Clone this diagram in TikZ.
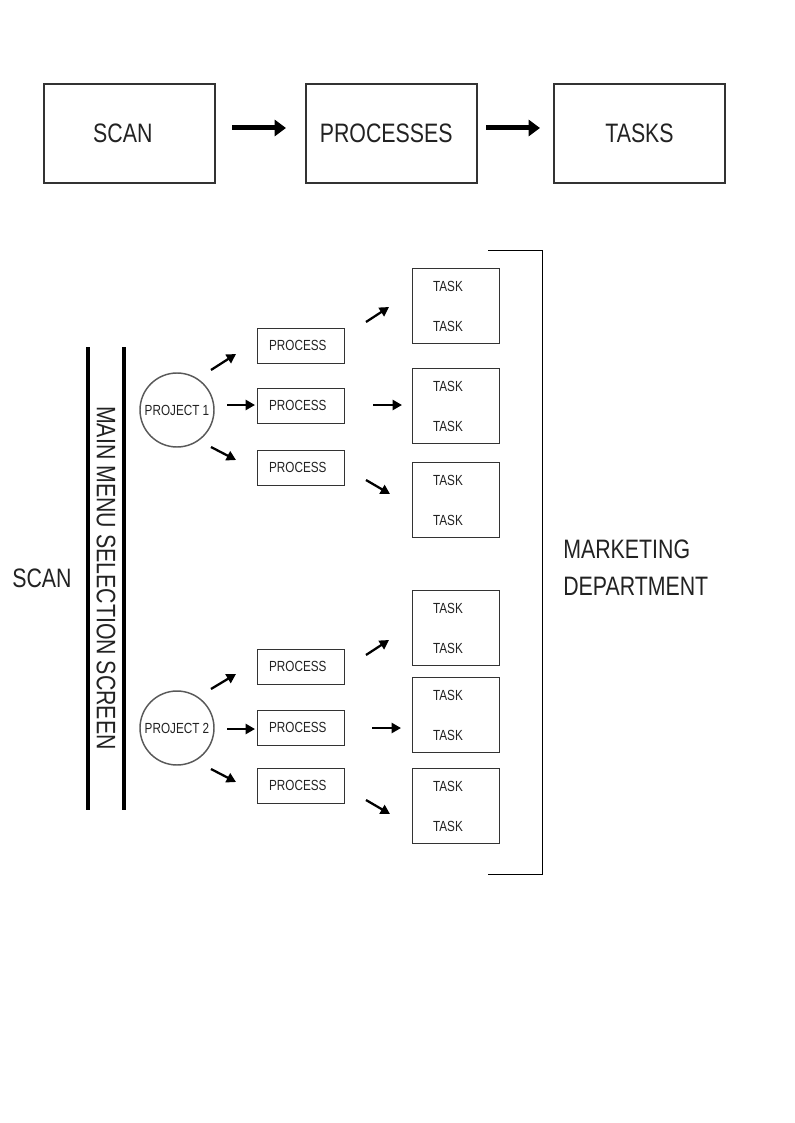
\documentclass[tikz,border=0pt]{standalone}
\usepackage{fontspec}
\setmainfont{Liberation Sans}[FakeStretch=0.8]
\usetikzlibrary{arrows.meta}
\definecolor{ink}{HTML}{222222}
\definecolor{edge}{HTML}{333333}
\begin{document}
\begin{tikzpicture}[x=0.75pt,y=-0.75pt,
  bigbox/.style={draw=edge,line width=0.9pt,minimum width=128.25pt,minimum height=74.25pt,inner sep=0pt,font=\fontsize{20}{24}\selectfont,text=ink},
  procbox/.style={draw=edge,line width=0.75pt,minimum width=65.25pt,minimum height=26.25pt,inner sep=0pt,font=\fontsize{11}{13}\selectfont,text=ink},
  taskbox/.style={draw=edge,line width=0.75pt,minimum width=65.25pt,minimum height=56.25pt,inner sep=0pt},
  tasklbl/.style={font=\fontsize{11}{13}\selectfont,text=ink,inner sep=0pt},
  projcirc/.style={circle,draw=black!65,line width=1.1pt,minimum size=55.5pt,inner sep=0pt,font=\fontsize{11}{13}\selectfont,text=ink},
  biglbl/.style={font=\fontsize{20}{27.75}\selectfont,text=ink,inner sep=0pt},
  bigarr/.style={line width=3.75pt,-{Triangle[length=8.5pt,width=12pt]}},
  arr/.style={line width=1.7pt,-{Triangle[length=7pt,width=7.5pt]}},
  bar/.style={line width=2.3pt},
  thin/.style={line width=0.65pt}
]
\useasboundingbox (0,0) rectangle (794,1123);

% top row
\node[bigbox,text width=128.25pt,align=center] (tscan) at (129.5,133.5) {\hspace*{-10pt}SCAN};
\node[bigbox,text width=128.25pt,align=center] (tproc) at (391.5,133.5) {\hspace*{-8pt}PROCESSES};
\node[bigbox] (ttask) at (639.5,133.5) {TASKS};
\coordinate (ta1) at (232,128); \coordinate (tb1) at (286,128);
\coordinate (ta2) at (486,128); \coordinate (tb2) at (540,128);
\draw[bigarr] (ta1) -- (tb1);
\draw[bigarr] (ta2) -- (tb2);

% left side
\node[biglbl] (scan) at (42,578) {SCAN};
\coordinate (b1t) at (88,347); \coordinate (b1b) at (88,810);
\coordinate (b2t) at (124,347); \coordinate (b2b) at (124,810);
\draw[bar] (b1t) -- (b1b);
\draw[bar] (b2t) -- (b2b);
\node[biglbl,rotate=-90] (menu) at (106,578) {MAIN MENU SELECTION SCREEN};

% projects
\node[projcirc] (pj1) at (177,410) {PROJECT 1};
\node[projcirc] (pj2) at (177,728) {PROJECT 2};

% processes
\foreach \n/\y in {p11/345.5,p12/405.5,p13/467.5,p21/666.5,p22/727.5,p23/785.5}
  \node[procbox,text width=65.25pt,align=center] (\n) at (300.5,\y) {\hspace*{-4pt}PROCESS};

% tasks
\foreach \n/\y in {t11/305.5,t12/405.5,t13/499.5,t21/627.5,t22/714.5,t23/805.5}{
  \node[taskbox] (\n) at (455.5,\y) {};
  \node[tasklbl] (\n a) at (448,\y-19.5) {TASK};
  \node[tasklbl] (\n b) at (448,\y+20.5) {TASK};
}

% arrows project -> process -> task
\coordinate (a1) at (211,370); \coordinate (a1e) at (236,354);
\coordinate (a2) at (227,405); \coordinate (a2e) at (255,405);
\coordinate (a3) at (211,447); \coordinate (a3e) at (236,460);
\coordinate (a4) at (366,322); \coordinate (a4e) at (389,307);
\coordinate (a5) at (373,405); \coordinate (a5e) at (402,405);
\coordinate (a6) at (366,480); \coordinate (a6e) at (390,494);
\coordinate (c1) at (211,689); \coordinate (c1e) at (236,674);
\coordinate (c2) at (227,729); \coordinate (c2e) at (255,729);
\coordinate (c3) at (211,769); \coordinate (c3e) at (236,782);
\coordinate (c4) at (366,655); \coordinate (c4e) at (389,640);
\coordinate (c5) at (372,728); \coordinate (c5e) at (401,728);
\coordinate (c6) at (366,800); \coordinate (c6e) at (390,814);
\foreach \s in {a1,a2,a3,a4,a5,a6,c1,c2,c3,c4,c5,c6}
  \draw[arr] (\s) -- (\s e);

% bracket
\coordinate (k1) at (488,250); \coordinate (k2) at (542,250);
\coordinate (k3) at (542,874); \coordinate (k4) at (488,874);
\draw[thin] (k1) -- (k2) -- (k3) -- (k4);

\node[biglbl,align=left,anchor=west] (mkt) at (563,567.5) {MARKETING\\DEPARTMENT};
\end{tikzpicture}
\end{document}
